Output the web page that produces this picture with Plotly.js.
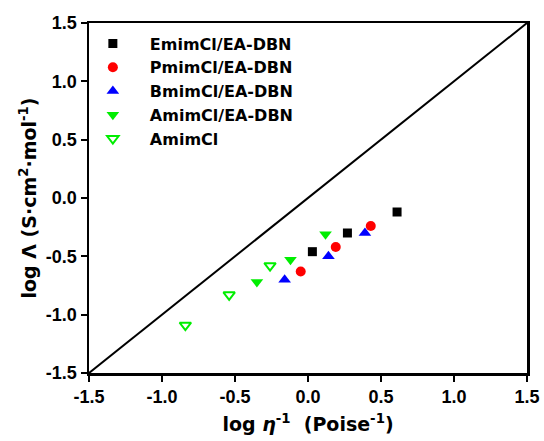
<!DOCTYPE html>
<html>
<head>
<meta charset="utf-8">
<script src="https://cdn.plot.ly/plotly-3.0.1.min.js"></script>
<style>html,body{margin:0;padding:0;background:#fff;}#chart{width:544px;height:441px;}</style>
</head>
<body>
<div id="chart"></div>
<script>
const seriesNames = ["EmimCl/EA-DBN", "PmimCl/EA-DBN", "BmimCl/EA-DBN", "AmimCl/EA-DBN", "AmimCl"];
const emimX = [0.03, 0.27, 0.61];
const emimY = [-0.46, -0.30, -0.12];
const pmimX = [-0.05, 0.19, 0.43];
const pmimY = [-0.63, -0.42, -0.24];
const bmimX = [-0.16, 0.14, 0.39];
const bmimY = [-0.70, -0.50, -0.30];
const amimEaX = [-0.35, -0.12, 0.12];
const amimEaY = [-0.72, -0.53, -0.31];
const amimX = [-0.84, -0.54, -0.26];
const amimY = [-1.09, -0.83, -0.58];
const refLineX = [-1.5, 1.5];
const refLineY = [-1.5, 1.5];
const tickVals = [-1.5, -1.0, -0.5, 0.0, 0.5, 1.0, 1.5];
const tickText = ["-1.5", "-1.0", "-0.5", "0.0", "0.5", "1.0", "1.5"];

const traces = [
  {x: refLineX, y: refLineY, mode: "lines", line: {color: "#000", width: 2}, showlegend: false, hoverinfo: "skip"},
  {x: emimX, y: emimY, name: seriesNames[0], mode: "markers", marker: {symbol: "square", color: "#000", size: 9}},
  {x: pmimX, y: pmimY, name: seriesNames[1], mode: "markers", marker: {symbol: "circle", color: "#ff0000", size: 10}},
  {x: bmimX, y: bmimY, name: seriesNames[2], mode: "markers", marker: {symbol: "triangle-up", color: "#0000ff", size: 11}},
  {x: amimEaX, y: amimEaY, name: seriesNames[3], mode: "markers", marker: {symbol: "triangle-down", color: "#00ee00", size: 11}},
  {x: amimX, y: amimY, name: seriesNames[4], mode: "markers", marker: {symbol: "triangle-down-open", color: "#00ee00", size: 10, line: {width: 2}}}
];

const axisCommon = {
  range: [-1.5, 1.5], tickvals: tickVals, ticktext: tickText,
  showgrid: false, zeroline: false, showline: true, linecolor: "#000", linewidth: 2.5,
  mirror: true, ticks: "outside", ticklen: 6, tickwidth: 2, tickcolor: "#000",
  tickfont: {family: "Liberation Sans, Arial, sans-serif", size: 18, color: "#000", weight: "bold"}
};

const layout = {
  width: 544, height: 441,
  margin: {l: 89, r: 17, t: 23, b: 68},
  paper_bgcolor: "#fff", plot_bgcolor: "#fff",
  font: {family: "DejaVu Sans, sans-serif", color: "#000"},
  xaxis: Object.assign({}, axisCommon, {
    title: {text: "<b>log <i>η</i><sup>-1</sup>  (Poise<sup>-1</sup>)</b>", font: {family: "DejaVu Sans, sans-serif", size: 19, color: "#000"}, standoff: 12}
  }),
  yaxis: Object.assign({}, axisCommon, {
    title: {text: "<b>log Λ (S·cm<sup>2</sup>·mol<sup>-1</sup>)</b>", font: {family: "DejaVu Sans, sans-serif", size: 19, color: "#000"}, standoff: 4}
  }),
  legend: {
    x: -0.03, y: 0.99, xanchor: "left", yanchor: "top",
    bgcolor: "rgba(0,0,0,0)", borderwidth: 0,
    font: {family: "DejaVu Sans, sans-serif", size: 16, color: "#000", weight: "bold"},
    itemwidth: 64, tracegroupgap: 0
  }
};

Plotly.newPlot("chart", traces, layout, {displayModeBar: false, staticPlot: true});
</script>
</body>
</html>
